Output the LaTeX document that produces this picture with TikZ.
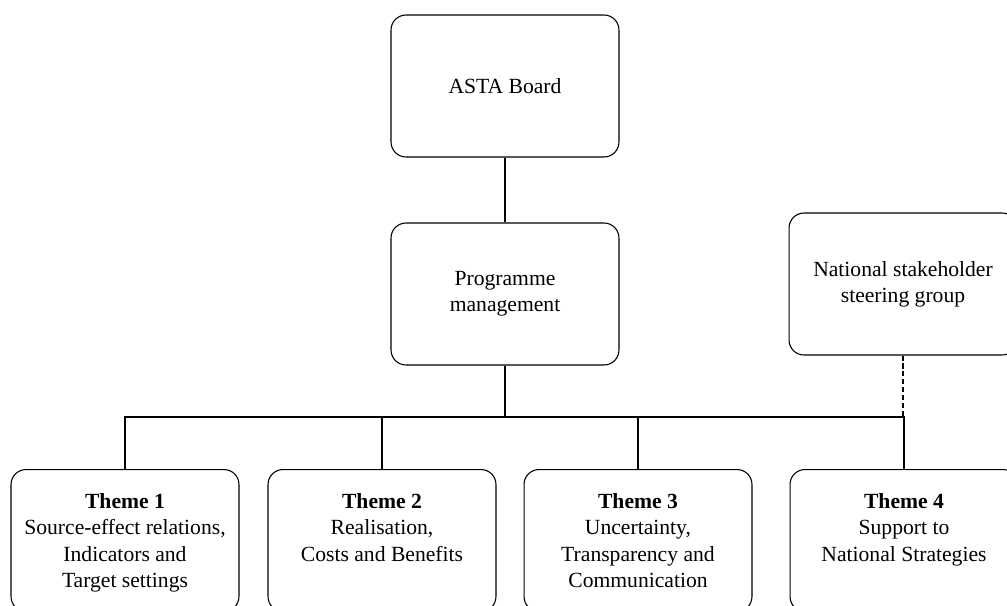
\documentclass[tikz,border=0pt]{standalone}
\usepackage{fontspec}
\setmainfont{Liberation Serif}
\usetikzlibrary{calc}

\begin{document}
\begin{tikzpicture}[x=0.555pt, y=-0.555pt,
  every node/.style={font=\fontsize{12}{14.6}\selectfont},
  box/.style={draw, line width=0.6pt, rounded corners=8.3pt, align=center,
    minimum width=126.5pt, minimum height=78.8pt, inner sep=0pt},
  themebox/.style={box, align=flush center, text width=126pt, text height=21.6pt, text depth=57.2pt},
  link/.style={line width=0.6pt}]
\useasboundingbox (0, 0) rectangle (1007, 605);

\node [box] (asta) at (505, 86) {ASTA Board};
\node [box] (prog) at (505, 294) {Programme\\management};
\node [box] (nssg) at (903, 284) {National stakeholder\\steering group};

\node [themebox, anchor=north] (t1) at (125, 469) {\textbf{Theme 1}\\Source-effect relations,\\Indicators and\\Target settings};
\node [themebox, anchor=north] (t2) at (382, 469) {\textbf{Theme 2}\\Realisation,\\Costs and Benefits};
\node [themebox, anchor=north] (t3) at (638, 469) {\textbf{Theme 3}\\Uncertainty,\\Transparency and\\Communication};
\node [themebox, anchor=north] (t4) at (904, 469) {\textbf{Theme 4}\\Support to\\National Strategies};

\coordinate (busL) at (125, 417);
\coordinate (busR) at (904, 417);

\draw [link] (asta) -- (prog);
\draw [line width=1.2pt] (prog.south) -- (prog.south |- busL);
\draw [link, dash pattern=on 2.8pt off 1.6pt] (nssg.south) -- (nssg.south |- busR);
\draw [link] (t1.north) -- (busL) -- (busR) -- (t4.north);
\draw [link] (t2.north) -- (t2.north |- busL);
\draw [link] (t3.north) -- (t3.north |- busL);
\end{tikzpicture}
\end{document}
